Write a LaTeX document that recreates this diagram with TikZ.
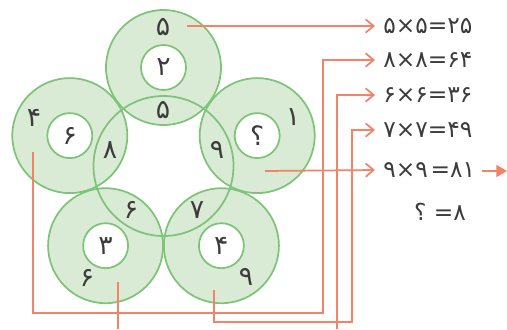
\documentclass[tikz,border=0pt]{standalone}
\usepackage{fontspec}
\TeXXeTstate=1
\newfontfamily\fa{DejaVu Sans}
\usetikzlibrary{arrows.meta}
\definecolor{ringgreen}{RGB}{125,196,120}
\definecolor{ringfill}{RGB}{217,235,213}
\definecolor{linkorange}{RGB}{242,130,104}
\definecolor{digitgray}{RGB}{60,60,60}

\begin{document}
\begin{tikzpicture}[x=0.75pt,y=-0.75pt,
  every node/.style={font=\fa\fontsize{20}{20}\selectfont, text=digitgray, inner sep=0pt},
  ring/.style={draw=ringgreen, line width=1.3pt},
  link/.style={draw=linkorange, line width=1.3pt},
  linkarrow/.style={link, -{Straight Barb[length=6pt,width=10pt,line width=1.3pt]}},
  eq/.style={anchor=west, inner xsep=6pt, font=\fa\fontsize{17.5}{18}\selectfont}]
  \useasboundingbox (0,0) rectangle (507,329);

  % Centres of the rings
  \coordinate (top) at (163.5,67.5);
  \coordinate (upleft) at (69.8,135.6);
  \coordinate (upright) at (257.2,135.6);
  \coordinate (lowleft) at (105.6,245.7);
  \coordinate (lowright) at (221.4,245.7);
  \coordinate (mid) at (163.5,166);

  % Rings
  \foreach \c in {top,upleft,upright,lowleft,lowright}
    \fill[ringfill] (\c) circle[radius=57.5];
  \foreach \c in {top,upleft,upright,lowleft,lowright}
    \fill[white] (\c) circle[radius=22.5];
  \foreach \c in {top,upleft,upright,lowleft,lowright} {
    \draw[ring] (\c) circle[radius=57.5];
    \draw[ring] (\c) circle[radius=22.5];
  }
  \draw[ring] (mid) circle[radius=70];

  % Numbers in the rings
  \node (topout) at (163,27) {۵};
  \node (topin) at (top) {۲};
  \node (topmid) at (163,110) {۵};
  \node (ulout) at (34,118) {۴};
  \node (ulin) at (upleft) {۶};
  \node (ulmid) at (110,150) {۸};
  \node (urout) at (293,117) {۱};
  \node (urin) at (upright) {؟};
  \node (urmid) at (217,150) {۹};
  \node (llmid) at (131,210) {۶};
  \node (llin) at (lowleft) {۳};
  \node (llout) at (87,278) {۶};
  \node (lrmid) at (197,210) {۷};
  \node (lrin) at (lowright) {۴};
  \node (lrout) at (246,277) {۹};

  % Products
  \node[eq] (eqa) at (375,26) {\beginR\beginL ۲۵\endL=\beginL ۵×۵\endL\endR};
  \node[eq] (eqb) at (375,60) {\beginR\beginL ۶۴\endL=\beginL ۸×۸\endL\endR};
  \node[eq] (eqc) at (375,95) {\beginR\beginL ۳۶\endL=\beginL ۶×۶\endL\endR};
  \node[eq] (eqd) at (375,130) {\beginR\beginL ۴۹\endL=\beginL ۷×۷\endL\endR};
  \node[eq] (eqe) at (375,170) {\beginR\beginL ۸۱\endL=\kern2pt\beginL ۹×۹\endL\endR};
  \node[font=\fa\fontsize{17.5}{18}\selectfont] (result) at (440,212) {\beginR ۸\kern0pt= ؟\endR};

  % Links
  \coordinate (fromtop) at (187,26);
  \coordinate (fromul) at (33,152);
  \coordinate (fromll) at (118,282);
  \coordinate (endll) at (118,329);
  \coordinate (startc) at (337,329);
  \coordinate (fromlr) at (214,290);
  \coordinate (fromur) at (265,171);
  \coordinate (tailout) at (482,171);
  \coordinate (tipout) at (507,171);

  \draw[linkarrow] (fromtop) -- (eqa.west);
  \draw[linkarrow] (fromul) |- (323,313) |- (eqb.west);
  \draw[link] (fromll) -- (endll);
  \draw[linkarrow] (startc) |- (eqc.west);
  \draw[linkarrow] (fromlr) |- (352,322) |- (eqd.west);
  \draw[linkarrow] (fromur) -- (eqe.west);
  \draw[link, -{Triangle[length=8pt,width=9pt]}] (tailout) -- (tipout);
\end{tikzpicture}
\end{document}
